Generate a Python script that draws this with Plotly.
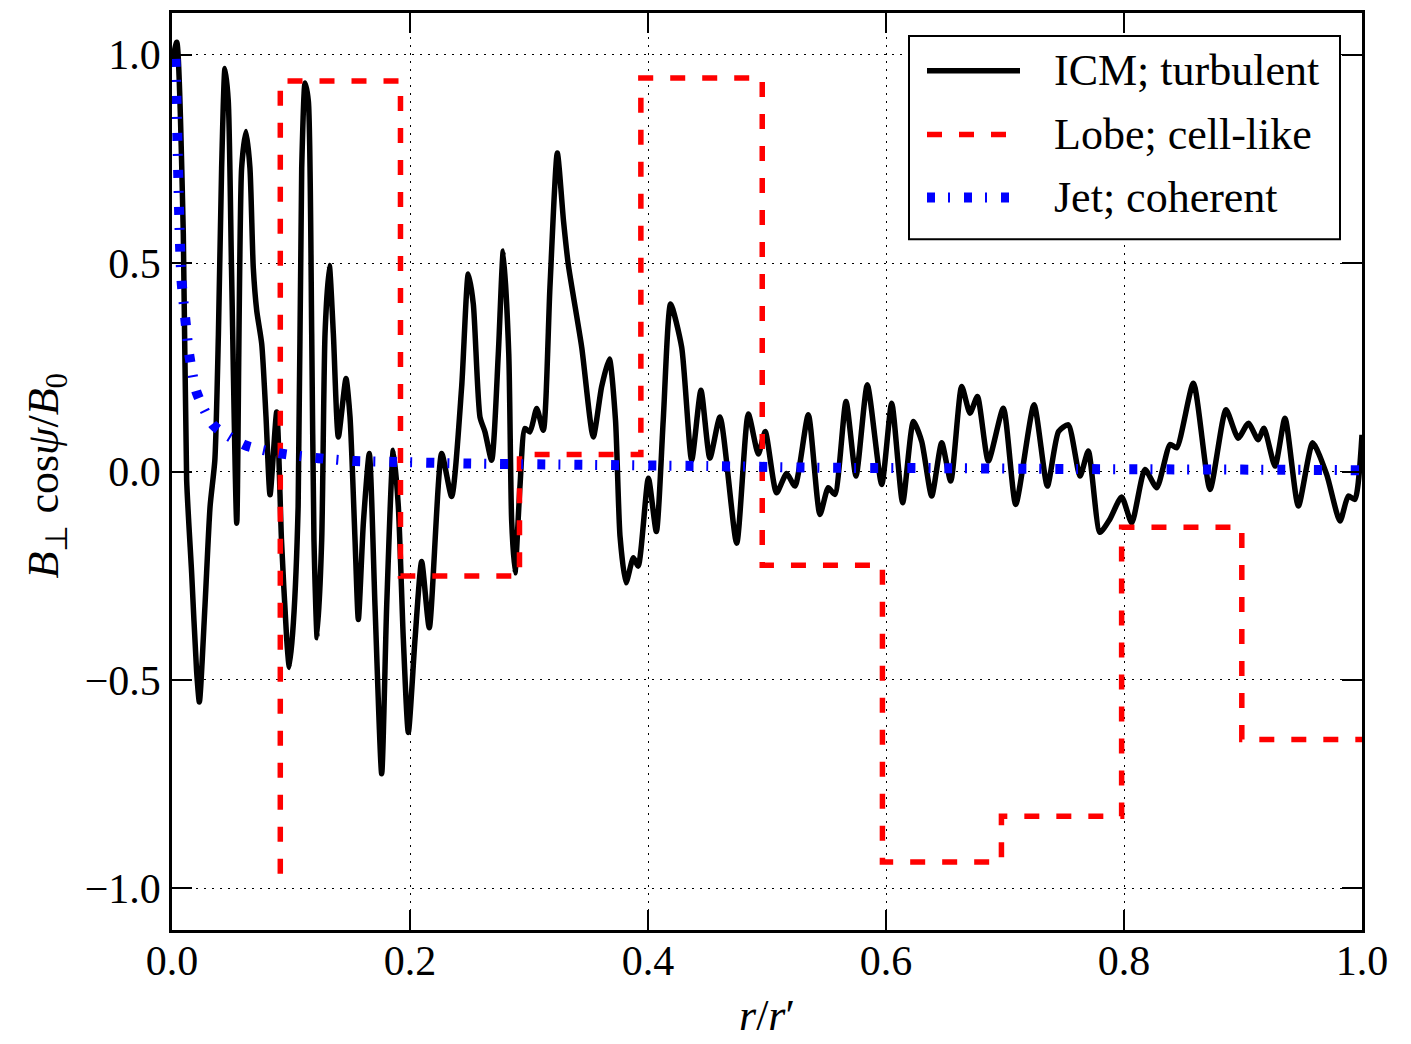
import plotly.graph_objects as go

# ICM: turbulent field profile
icm_r = [0.000, 0.004, 0.0095, 0.0123, 0.0165, 0.0207, 0.023, 0.0277, 0.032, 0.036,
         0.039, 0.0417, 0.0445, 0.0473, 0.050, 0.0544, 0.0585, 0.0622, 0.0655, 0.0683,
         0.0712, 0.0754, 0.079, 0.0824, 0.088, 0.092, 0.0964, 0.0986, 0.102, 0.106,
         0.109, 0.1118, 0.1146, 0.1174, 0.1193, 0.122, 0.1258, 0.1286, 0.1322, 0.1356,
         0.1398, 0.1462, 0.1496, 0.1538, 0.1566, 0.1608, 0.1658, 0.1706, 0.1762, 0.1804,
         0.186, 0.1902, 0.1944, 0.1986, 0.2042, 0.2098, 0.2162, 0.2266, 0.235, 0.2434,
         0.249, 0.2532, 0.2588, 0.263, 0.2686, 0.2742, 0.2784, 0.283, 0.2854, 0.2882,
         0.2924, 0.2966, 0.3008, 0.3065, 0.312, 0.3176, 0.3238, 0.329, 0.333, 0.3443,
         0.354, 0.361, 0.3675, 0.3727, 0.3765, 0.3815, 0.3877, 0.3918, 0.4003, 0.407,
         0.4128, 0.419, 0.4283, 0.4367, 0.4445, 0.452, 0.4605, 0.4745, 0.4843, 0.4927,
         0.4985, 0.508, 0.5165, 0.5235, 0.5347, 0.5445, 0.5515, 0.557, 0.5664, 0.5748,
         0.5843, 0.5964, 0.6048, 0.614, 0.623, 0.630, 0.6384, 0.6468, 0.6544, 0.6636,
         0.6706, 0.6768, 0.686, 0.6986, 0.709, 0.7244, 0.7356, 0.745, 0.7532, 0.763,
         0.770, 0.7798, 0.788, 0.798, 0.8065, 0.8176, 0.8275, 0.8387, 0.8443, 0.8583,
         0.8723, 0.8857, 0.896, 0.9045, 0.9128, 0.9176, 0.9269, 0.9353, 0.9465, 0.9586,
         0.9703, 0.9815, 0.9885, 0.994, 1.000]
icm_b = [0.98, 1.03, 0.57, -0.02, -0.243, -0.48, -0.553, -0.323, -0.084, 0.027,
         0.33, 0.728, 0.967, 0.888, 0.489, -0.124, 0.728, 0.816, 0.728, 0.489,
         0.386, 0.306, 0.131, -0.056, 0.143, -0.164, -0.403, -0.47, -0.363, -0.084,
         0.728, 0.932, 0.888, 0.33, -0.164, -0.399, -0.164, 0.33, 0.494, 0.33,
         0.083, 0.223, 0.131, -0.164, -0.355, -0.124, 0.043, -0.323, -0.725, -0.323,
         0.051, -0.084, -0.403, -0.626, -0.403, -0.216, -0.375, 0.043, -0.06, 0.203,
         0.474, 0.402, 0.131, 0.095, 0.027, 0.282, 0.529, 0.282, -0.116, -0.243,
         -0.036, 0.103, 0.095, 0.151, 0.099, 0.442, 0.764, 0.601, 0.497, 0.298,
         0.083, 0.203, 0.27, 0.123, -0.156, -0.267, -0.207, -0.227, -0.016, -0.144,
         0.123, 0.402, 0.298, 0.027, 0.195, 0.032, 0.131, -0.172, 0.138, 0.042,
         0.096, -0.051, -0.005, -0.035, 0.136, -0.103, -0.039, -0.055, 0.168, -0.011,
         0.208, -0.031, 0.164, -0.075, 0.12, 0.072, -0.059, 0.069, -0.023, 0.204,
         0.14, 0.18, 0.025, 0.152, -0.079, 0.16, -0.035, 0.096, 0.112, -0.011,
         0.049, -0.146, -0.115, -0.061, -0.123, 0.005, -0.039, 0.065, 0.057, 0.212,
         -0.043, 0.148, 0.08, 0.116, 0.076, 0.104, 0.013, 0.128, -0.083, 0.069,
         -0.007, -0.119, -0.059, -0.067, 0.088]

# Lobe: cell-like field, constant within each cell
lobe_edges = [0.091, 0.192, 0.292, 0.394, 0.496, 0.597, 0.697, 0.798, 0.899, 1.0]
lobe_vals = [0.937, -0.251, 0.041, 0.944, -0.225, -0.937, -0.827, -0.134, -0.643]
lobe_start = -0.965

# Jet: coherent field
jet_r = [0.003, 0.0067, 0.008, 0.011, 0.0146, 0.0207, 0.0347, 0.0613, 0.092, 0.123,
         0.154, 0.186, 0.25, 0.35, 0.45, 0.55, 0.65, 0.75, 0.85, 0.95, 1.0]
jet_b = [0.99, 0.546, 0.458, 0.37, 0.278, 0.19, 0.111, 0.063, 0.043, 0.032,
         0.025, 0.023, 0.019, 0.016, 0.013, 0.009, 0.008, 0.006, 0.005, 0.004, 0.003]

y_ticks = [-1.0, -0.5, 0.0, 0.5, 1.0]
y_tick_text = ["\u22121.0", "\u22120.5", "0.0", "0.5", "1.0"]
x_ticks = [0.0, 0.2, 0.4, 0.6, 0.8, 1.0]
x_tick_text = ["0.0", "0.2", "0.4", "0.6", "0.8", "1.0"]

names = ["ICM; turbulent", "Lobe; cell-like", "Jet; coherent"]
FONT = "Liberation Serif"
BLACK, RED, BLUE = "#000000", "#ff0000", "#0000ff"
RED_DASH = "15px,17px"
BLUE_DASH = "8px,13px,2px,14px"

# step path vertices for the lobe profile
lobe_x = [lobe_edges[0]] + lobe_edges[:-1] + [lobe_edges[-1]]
lobe_y = [lobe_start] + lobe_vals + [lobe_vals[-1]]

fig = go.Figure()
fig.add_trace(go.Scatter(x=icm_r, y=icm_b, mode="lines", name=names[0],
                         line=dict(color=BLACK, width=5.5, shape="spline", smoothing=0.6)))
fig.add_trace(go.Scatter(x=lobe_x, y=lobe_y, mode="lines", name=names[1],
                         line=dict(color=RED, width=5.5, dash=RED_DASH, shape="hv")))
fig.add_trace(go.Scatter(x=jet_r, y=jet_b, mode="lines", name=names[2],
                         line=dict(color=BLUE, width=10, dash=BLUE_DASH, shape="spline", smoothing=0.6)))

L, R, T, B = 172, 49, 10, 114
W, H = 1411, 1044
pw, ph = W - L - R, H - T - B


def px(xp):
    return (xp - L) / pw


def py(yp):
    return (H - B - yp) / ph


axis_common = dict(showline=True, linecolor=BLACK, linewidth=2.5, mirror="ticks",
                   ticks="inside", ticklen=20, tickwidth=2, tickcolor=BLACK,
                   showgrid=True, gridcolor=BLACK, gridwidth=1.4, griddash="2px,6px",
                   zeroline=False, tickfont=dict(family=FONT, size=42, color=BLACK))

fig.update_xaxes(range=[0, 1], tickvals=x_ticks, ticktext=x_tick_text,
                 ticklabelstandoff=-8, **axis_common)
fig.update_yaxes(range=[-1.1, 1.1], tickvals=y_ticks, ticktext=y_tick_text,
                 ticklabelstandoff=0, **axis_common)

# legend box drawn on the plot
shapes = [dict(type="rect", xref="paper", yref="paper", x0=px(909), x1=px(1340),
               y0=py(237), y1=py(33), line=dict(color=BLACK, width=2), fillcolor="white",
               layer="above")]
rows = [68, 132, 195]
styles = [dict(color=BLACK, width=5.5), dict(color=RED, width=5.5, dash=RED_DASH),
          dict(color=BLUE, width=10, dash=BLUE_DASH)]
annotations = []
for row, st, nm in zip(rows, styles, names):
    shapes.append(dict(type="line", xref="paper", yref="paper", x0=px(927), x1=px(1020),
                       y0=py(row), y1=py(row), line=st, layer="above"))
    annotations.append(dict(xref="paper", yref="paper", x=px(1052), y=py(row),
                            xanchor="left", yanchor="middle", showarrow=False, text=nm,
                            font=dict(family=FONT, size=44, color=BLACK)))

annotations.append(dict(xref="paper", yref="paper", x=px(46), y=py(475), textangle=-90,
                        showarrow=False, xanchor="center", yanchor="middle",
                        text="<i>B</i><sub>\u22a5</sub> cos<i>\u03c8</i>/<i>B</i><sub>0</sub>",
                        font=dict(family=FONT, size=44, color=BLACK)))
annotations.append(dict(xref="paper", yref="paper", x=px(767), y=py(1016),
                        showarrow=False, xanchor="center", yanchor="middle",
                        text="<i>r</i>/<i>r</i>\u2032",
                        font=dict(family=FONT, size=44, color=BLACK)))

fig.update_layout(width=W, height=H, margin=dict(l=L, r=R, t=T, b=B),
                  plot_bgcolor="white", paper_bgcolor="white", showlegend=False,
                  shapes=shapes, annotations=annotations,
                  font=dict(family=FONT, color=BLACK))

fig.write_html("out.html")
